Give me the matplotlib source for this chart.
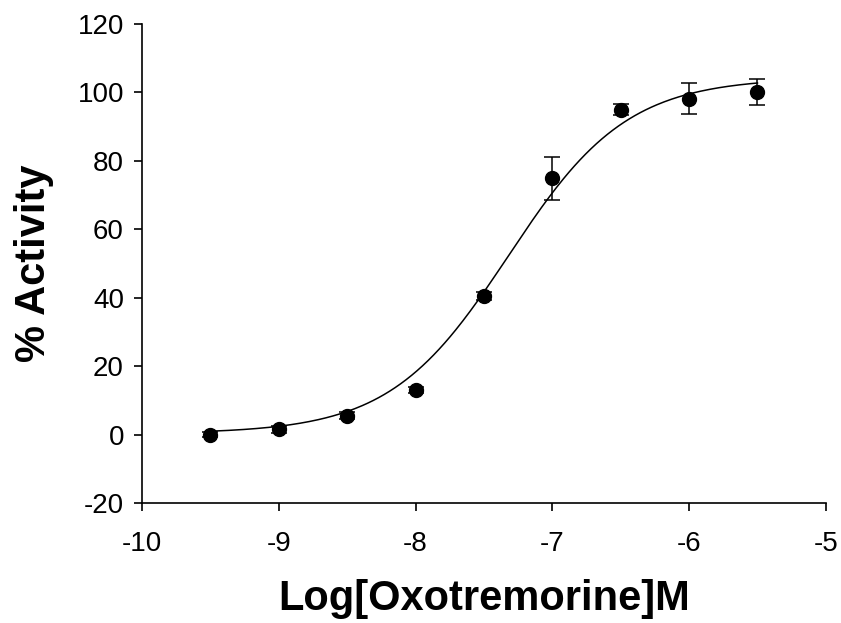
import numpy as np
import matplotlib.pyplot as plt

plt.rcParams['font.family'] = ['Liberation Sans', 'DejaVu Sans']
plt.rcParams['axes.unicode_minus'] = False

# measured points
log_conc = [-9.5, -9.0, -8.5, -8.0, -7.5, -7.0, -6.5, -6.0, -5.5]
activity = [0.0, 1.5, 5.5, 13.0, 40.4, 74.9, 95.0, 98.2, 100.0]
sem = [0.8, 1.0, 1.0, 0.8, 1.2, 6.2, 1.5, 4.5, 3.8]

# sigmoidal fit parameters
fit_bottom = 0.3
fit_top = 104.3
fit_logec50 = -7.32
fit_hill = 1.0

x_ticks = [-10, -9, -8, -7, -6, -5]
y_ticks = [-20, 0, 20, 40, 60, 80, 100, 120]

fig = plt.figure(figsize=(8.41, 6.23), dpi=100)
ax = fig.add_axes([0.1688, 0.1926, 0.8132, 0.7689])

xs = np.linspace(log_conc[0], log_conc[-1], 300)
ys = fit_bottom + (fit_top - fit_bottom) / (1 + 10 ** ((fit_logec50 - xs) * fit_hill))
ax.plot(xs, ys, color='black', lw=1.1)

ax.errorbar(log_conc, activity, yerr=sem, fmt='o', color='black', ms=10,
            ecolor='black', elinewidth=1.1, capsize=6, capthick=1.1)

ax.set_xlim(-10, -5)
ax.set_ylim(-20, 120)
ax.set_xticks(x_ticks)
ax.set_yticks(y_ticks)
ax.tick_params(labelsize=20, length=6, width=1.2, direction='out')
ax.tick_params(axis='x', pad=14)
ax.tick_params(axis='y', pad=7)
ax.spines['top'].set_visible(False)
ax.spines['right'].set_visible(False)
ax.spines['left'].set_linewidth(1.2)
ax.spines['bottom'].set_linewidth(1.2)

ax.set_xlabel('Log[Oxotremorine]M', fontsize=30, fontweight='bold', labelpad=16)
ax.set_ylabel('% Activity', fontsize=30, fontweight='bold', labelpad=17)

fig.savefig('out.png', dpi=100)
